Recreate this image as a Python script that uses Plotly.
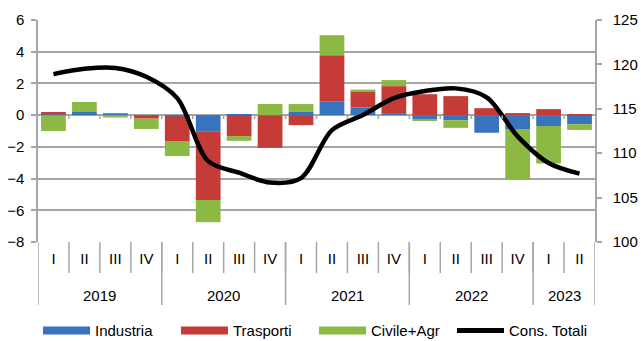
import plotly.graph_objects as go

years = ["2019"] * 4 + ["2020"] * 4 + ["2021"] * 4 + ["2022"] * 4 + ["2023"] * 2
quarters = ["I", "II", "III", "IV"] * 4 + ["I", "II"]

industria = [0.05, 0.2, 0.12, -0.1, -0.08, -1.05, 0.05, 0.0, 0.2, 0.84, 0.48, 0.13,
             -0.25, -0.32, -1.11, -0.88, -0.69, -0.57]
trasporti = [0.15, 0.0, 0.0, -0.12, -1.55, -4.3, -1.32, -2.06, -0.63, 2.94, 1.03, 1.7,
             1.32, 1.2, 0.44, 0.13, 0.38, 0.06]
civile = [-1.0, 0.63, -0.15, -0.65, -0.95, -1.4, -0.3, 0.7, 0.5, 1.26, 0.1, 0.38,
          -0.1, -0.48, 0.0, -3.16, -2.36, -0.36]
cons_totali = [118.9, 119.5, 119.6, 118.6, 116.2, 109.1, 107.8, 106.7, 107.2, 112.6,
               114.3, 116.2, 117.0, 117.3, 116.3, 111.9, 108.9, 107.7]

left_ticks = [-8, -6, -4, -2, 0, 2, 4, 6]
right_ticks = [100, 105, 110, 115, 120, 125]

C_BLUE = "#3874BE"
C_RED = "#C53B38"
C_GREEN = "#8CB944"
GRID = "#A6A6A6"
FONT = "Liberation Sans, Arial, sans-serif"

cats = [f"{q} {y}" for q, y in zip(quarters, years)]
n = len(cats)

fig = go.Figure()
for name, vals, col in [("Industria", industria, C_BLUE),
                        ("Trasporti", trasporti, C_RED),
                        ("Civile+Agr", civile, C_GREEN)]:
    fig.add_trace(go.Bar(x=cats, y=vals, name=name, marker=dict(color=col, line=dict(width=0)),
                         showlegend=False))

fig.add_trace(go.Scatter(x=cats, y=cons_totali, name="Cons. Totali", yaxis="y2",
                         mode="lines",
                         line=dict(color="black", width=4.5, shape="spline", smoothing=0.9),
                         showlegend=False))

# legend entries (wide swatches like the original)
for name, col, w in [("Industria", C_BLUE, 8), ("Trasporti", C_RED, 8),
                     ("Civile+Agr", C_GREEN, 8), ("Cons. Totali", "black", 5)]:
    fig.add_trace(go.Scatter(x=[None], y=[None], name=name, mode="lines",
                             line=dict(color=col, width=w)))

# quarter boundary ticks (bottom of the axis and small ones on the zero line)
for i in range(n - 1):
    b = i + 0.5
    fig.add_shape(type="line", xref="x", yref="paper", x0=b, x1=b, y0=0, y1=-0.14,
                  line=dict(color=GRID, width=1.5))
    fig.add_shape(type="line", xref="x", yref="y", x0=b, x1=b, y0=0, y1=-0.25,
                  line=dict(color=GRID, width=1.5))

# year labels and year dividers below the category axis
year_order = []
for y in years:
    if y not in year_order:
        year_order.append(y)
bounds = [-0.5]
for y in year_order:
    idx = [i for i, yy in enumerate(years) if yy == y]
    fig.add_annotation(x=(idx[0] + idx[-1]) / 2, xref="x", y=-0.239, yref="paper",
                       text=y, showarrow=False, font=dict(size=15), yanchor="middle")
    bounds.append(idx[-1] + 0.5)
for b in bounds:
    fig.add_shape(type="line", xref="x", yref="paper", x0=b, x1=b, y0=0, y1=-0.284,
                  line=dict(color=GRID, width=1.5))

fig.update_layout(
    width=641, height=341,
    margin=dict(l=38, r=46, t=20, b=99, autoexpand=False),
    paper_bgcolor="white", plot_bgcolor="white",
    barmode="relative", bargap=0.2,
    font=dict(family=FONT, size=15, color="black"),
    showlegend=True,
    legend=dict(orientation="h", x=0.0, xanchor="left", y=-0.40, yanchor="middle",
                itemwidth=47, entrywidth=76, font=dict(size=15), tracegroupgap=0,
                itemclick=False),
    xaxis=dict(type="category", range=[-0.5, n - 0.5], tickvals=cats, ticktext=quarters,
               showgrid=False, showline=False, zeroline=False, ticks="",
               ticklabelstandoff=6, tickfont=dict(size=15)),
    yaxis=dict(range=[-8, 6], tickvals=left_ticks, showgrid=True, gridcolor=GRID,
               gridwidth=1.5, showline=True, linecolor=GRID, linewidth=1.5,
               ticks="outside", ticklen=5, tickcolor=GRID, tickwidth=1.5,
               zeroline=True, zerolinecolor=GRID, zerolinewidth=1.5, ticklabelstandoff=4),
    yaxis2=dict(range=[100, 125], tickvals=right_ticks, overlaying="y", side="right",
                showgrid=False, showline=True, linecolor=GRID, linewidth=1.5,
                ticks="outside", ticklen=5, tickcolor=GRID, tickwidth=1.5,
                zeroline=False, ticklabelstandoff=8),
)

fig.write_html("out.html")
